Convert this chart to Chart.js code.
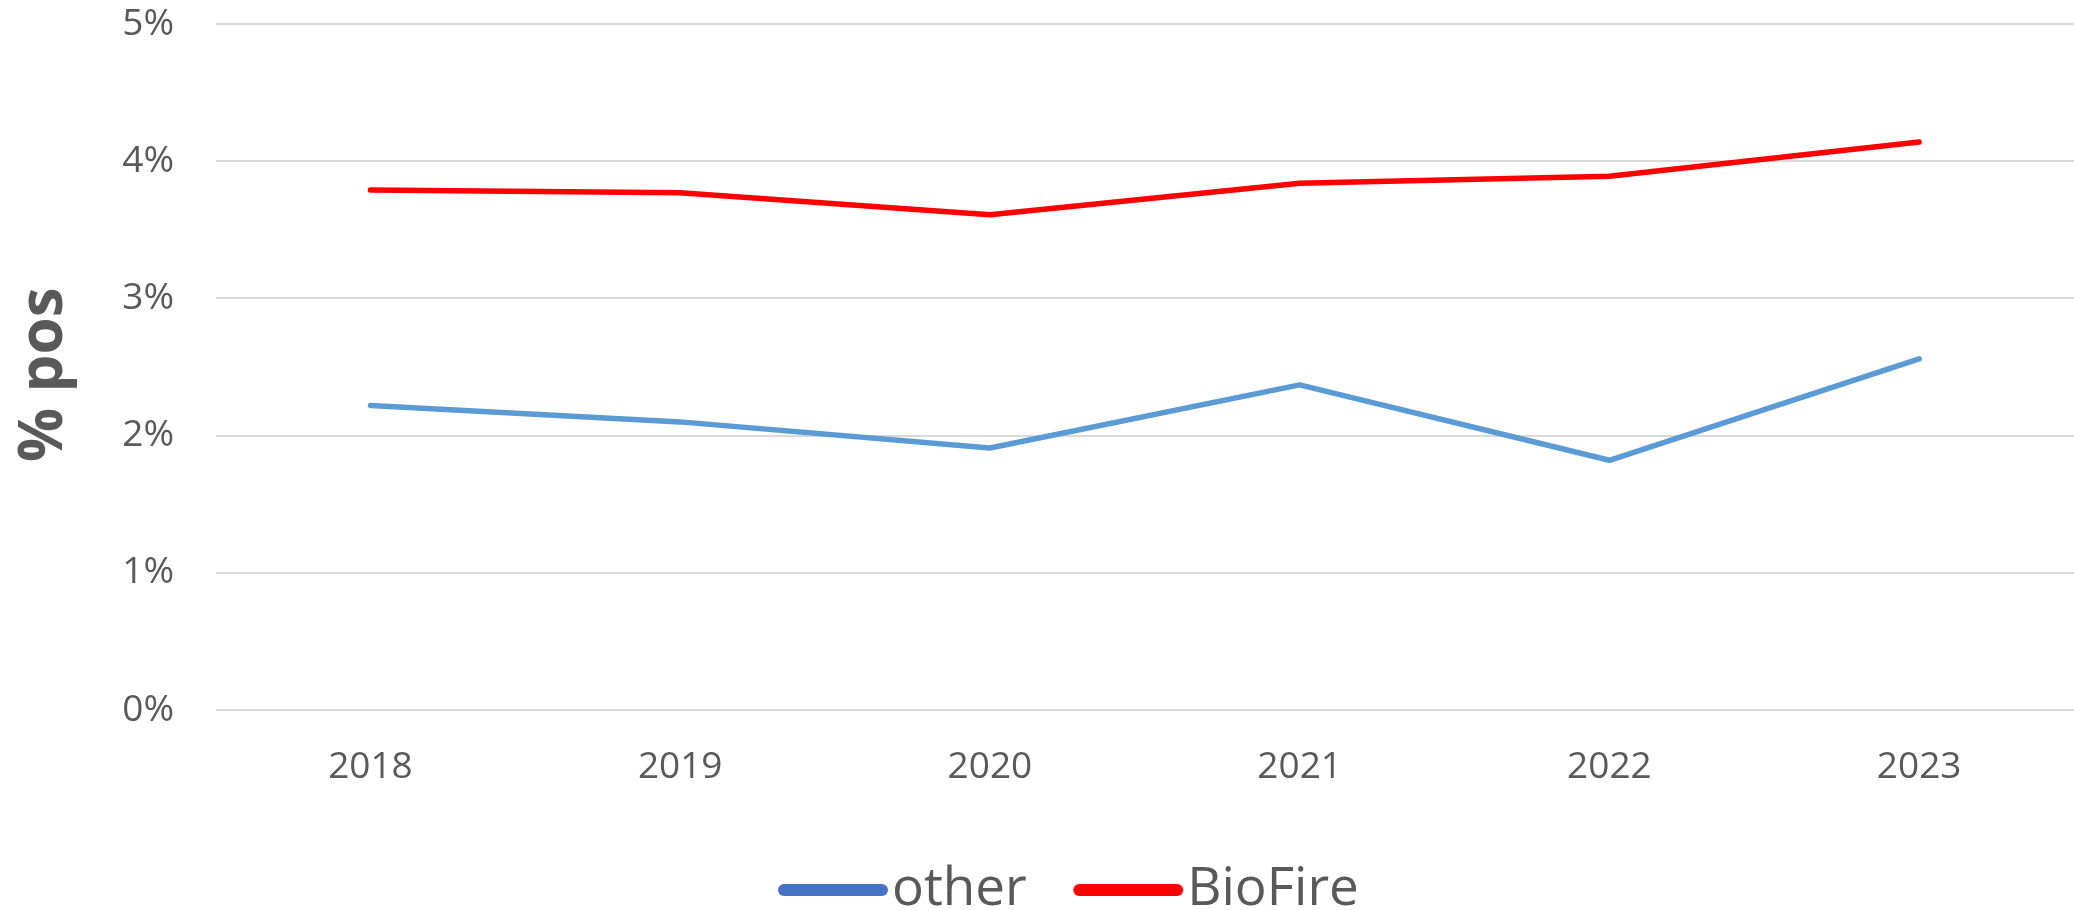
<!DOCTYPE html>
<html>
<head>
<meta charset="utf-8">
<script src="https://cdn.jsdelivr.net/npm/chart.js@4.4.1/dist/chart.umd.min.js"></script>
<style>
  html, body { margin: 0; padding: 0; background: #ffffff; }
  #wrap { width: 2074px; height: 910px; }
</style>
</head>
<body>
<div id="wrap"><canvas id="c" width="2074" height="910"></canvas></div>
<script>
// ---- data ----
const years = ['2018', '2019', '2020', '2021', '2022', '2023'];
const otherPos = [2.22, 2.10, 1.91, 2.37, 1.82, 2.56];
const bioFirePos = [3.79, 3.77, 3.61, 3.84, 3.89, 4.14];
const seriesNames = ['other', 'BioFire'];
const yTicks = [0, 1, 2, 3, 4, 5];

const TEXT = '#595959';
const GRID = '#d9d9d9';
const LEGEND_FONT = 53;
const PSW = 65;            // legend point-style width
const LEGEND_X = 800.5;    // first legend item start
const LEGEND_MID = 890;    // legend row middle

function legendLine(color) {
  const c = document.createElement('canvas');
  c.width = 112; c.height = 14;
  const g = c.getContext('2d');
  g.strokeStyle = color; g.lineWidth = 12; g.lineCap = 'round';
  g.beginPath(); g.moveTo(7, 7); g.lineTo(105, 7); g.stroke();
  return c;
}
const legendColors = ['#4472C4', '#FF0000'];

const legendPlace = {
  id: 'legendPlace',
  afterLayout(chart) {
    const lg = chart.legend;
    if (!lg || !lg.lineWidths) return;
    const p = lg.options.labels.padding;
    const natural = (lg.left + p + lg.right - lg.lineWidths[0]) / 2;
    const dx = LEGEND_X - natural;
    lg.left += dx; lg.right += dx;
    lg.top = LEGEND_MID - (p + LEGEND_FONT / 2);
    lg.bottom = chart.height;
    lg.height = lg.bottom - lg.top;
  }
};

new Chart(document.getElementById('c'), {
  type: 'line',
  data: {
    labels: years,
    datasets: [
      {
        label: seriesNames[0],
        data: otherPos,
        borderColor: '#5B9BD5',
        backgroundColor: '#5B9BD5',
        borderWidth: 5.5,
        pointRadius: 0,
        tension: 0,
        borderCapStyle: 'round',
        borderJoinStyle: 'round'
      },
      {
        label: seriesNames[1],
        data: bioFirePos,
        borderColor: '#FF0000',
        backgroundColor: '#FF0000',
        borderWidth: 5.5,
        pointRadius: 0,
        tension: 0,
        borderCapStyle: 'round',
        borderJoinStyle: 'round'
      }
    ]
  },
  options: {
    responsive: false,
    animation: false,
    devicePixelRatio: 1,
    layout: { padding: { top: 24, left: 0, right: 0, bottom: 0 } },
    plugins: {
      tooltip: { enabled: false },
      legend: {
        position: 'bottom',
        maxHeight: 100,
        labels: {
          usePointStyle: true,
          pointStyleWidth: PSW,
          padding: 69,
          color: TEXT,
          font: { family: "'Open Sans', sans-serif", size: LEGEND_FONT },
          generateLabels(chart) {
            const items = Chart.defaults.plugins.legend.labels.generateLabels(chart);
            items.forEach((it, i) => { it.pointStyle = legendLine(legendColors[i]); it.fontColor = TEXT; });
            return items;
          }
        }
      }
    },
    scales: {
      x: {
        offset: true,
        grid: { display: false, drawTicks: false },
        border: { display: false },
        ticks: {
          color: TEXT,
          padding: 35,
          font: { family: "'Open Sans', sans-serif", size: 37 }
        },
        afterFit(s) { s.height = 200 - (s.chart.legend ? s.chart.legend.height : 100); }
      },
      y: {
        min: 0,
        max: 5,
        afterBuildTicks(s) { s.ticks = yTicks.map(v => ({ value: v })); },
        grid: { color: GRID, lineWidth: 2, drawTicks: false },
        border: { display: false },
        ticks: {
          color: TEXT,
          padding: 41.5,
          font: { family: "'Open Sans', sans-serif", size: 37 },
          callback: v => v + '%'
        },
        title: {
          display: true,
          text: '% pos ',
          color: TEXT,
          padding: { top: 9, bottom: 0 },
          font: { family: "'Open Sans', sans-serif", size: 60, weight: 'bold' }
        },
        afterFit(s) { s.width = 215.6; s.paddingTop = 20; s.paddingBottom = 20; }
      }
    }
  },
  plugins: [legendPlace]
});
</script>
</body>
</html>
